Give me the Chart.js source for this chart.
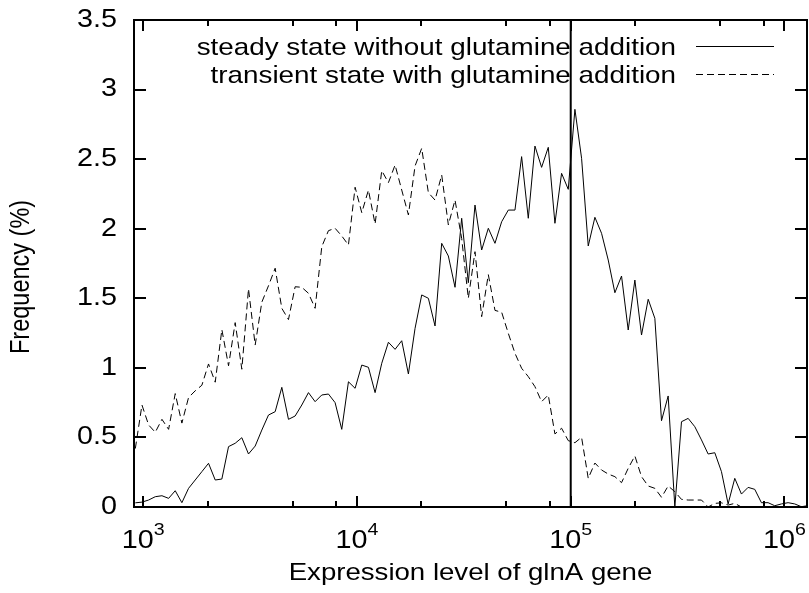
<!DOCTYPE html>
<html>
<head>
<meta charset="utf-8">
<script src="https://cdn.jsdelivr.net/npm/chart.js@4.4.1/dist/chart.umd.min.js"></script>
<style>
  html, body { margin: 0; padding: 0; background: #fff; }
  canvas { display: block; }
</style>
</head>
<body>
<canvas id="glna-chart" width="809" height="593"></canvas>
<script>
// log-spaced bin centres of the glnA expression histogram
const expressionLevel = [
  918, 986, 1059, 1138, 1223, 1314, 1411, 1516, 1629, 1750,
  1880, 2020, 2171, 2332, 2506, 2692, 2892, 3107, 3339, 3587,
  3854, 4141, 4449, 4780, 5135, 5517, 5928, 6369, 6843, 7352,
  7899, 8486, 9120, 9799, 10528, 11311, 12153, 13057, 14028, 15072,
  16193, 17398, 18692, 20082, 21576, 23182, 24907, 26760, 28750, 30889,
  33187, 35656, 38309, 41159, 44221, 47511, 51045, 54843, 58923, 63307,
  68017, 73077, 78514, 84355, 90631, 97374, 104620, 112410, 120770, 129760,
  139410, 149780, 160930, 172900, 185760, 199580, 214430, 230390, 247520, 265940,
  285720, 306980, 329820, 354360, 380720, 409040, 439470, 472170, 507300, 545040,
  585590, 629160, 675970, 726260, 780290, 838340, 900710, 967720, 1040100, 1117500,
  1200600, 1290000
];

// frequency (%) per bin, steady state (no glutamine)
const steadyFreq = [
  0.03, 0.035, 0.05, 0.074, 0.081, 0.062, 0.117, 0.031, 0.134, 0.194,
  0.254, 0.314, 0.194, 0.201, 0.434, 0.458, 0.498, 0.381, 0.438, 0.553,
  0.661, 0.685, 0.86, 0.63, 0.654, 0.733, 0.822, 0.757, 0.805, 0.812,
  0.75, 0.558, 0.9, 0.853, 1.02, 1.004, 0.822, 1.033, 1.184, 1.133,
  1.195, 0.956, 1.284, 1.524, 1.5, 1.301, 1.895, 1.804, 1.579, 2.075,
  1.612, 2.17, 1.847, 2.003, 1.895, 2.05, 2.134, 2.134, 2.518, 2.075,
  2.594, 2.441, 2.585, 2.039, 2.398, 2.283, 2.858, 2.506, 1.876, 2.082,
  1.967, 1.775, 1.54, 1.66, 1.272, 1.631, 1.236, 1.493, 1.356, 0.62,
  0.798, 0, 0.613, 0.637, 0.577, 0.482, 0.381, 0.39, 0.254, 0.022,
  0.206, 0.093, 0.141, 0.127, 0.031, 0.031, 0.009, 0.022, 0.031, 0.022,
  0.002, 0.01
];

// frequency (%) per bin, transient state after glutamine addition
const transientFreq = [
  0.42, 0.733, 0.59, 0.537, 0.63, 0.558, 0.815, 0.603, 0.787, 0.835,
  0.875, 1.028, 0.897, 1.275, 1.015, 1.325, 0.99, 1.568, 1.164, 1.472,
  1.59, 1.716, 1.428, 1.347, 1.583, 1.579, 1.536, 1.428, 1.871, 1.986,
  2.003, 1.948, 1.883, 2.298, 2.115, 2.278, 2.034, 2.417, 2.331, 2.458,
  2.278, 2.099, 2.451, 2.578, 2.259, 2.206, 2.386, 2.027, 2.206, 1.93,
  1.5, 1.835, 1.368, 1.67, 1.413, 1.4, 1.248, 1.105, 0.997, 0.937,
  0.865, 0.757, 0.805, 0.525, 0.566, 0.477, 0.462, 0.501, 0.206, 0.316,
  0.266, 0.237, 0.218, 0.175, 0.278, 0.367, 0.218, 0.151, 0.134, 0.07,
  0.151, 0.11, 0.055, 0.05, 0.05, 0.05, 0, 0.026, 0.03, 0.014,
  0.026, 0, 0, 0, 0, 0, 0, 0, 0, 0,
  0, 0
];

const seriesLabels = [
  'steady state without glutamine addition',
  'transient state with glutamine addition'
];
const markerLevel = 1e5;
const markerRange = [0, 3.5];
const majorTicks = [1e3, 1e4, 1e5, 1e6];
const minorTicks = [2e3, 5e3, 8e3, 2e4, 5e4, 8e4, 2e5, 5e5, 8e5];
const yTicks = [0, 0.5, 1, 1.5, 2, 2.5, 3, 3.5];

const FONT = '"Liberation Sans", Arial, Helvetica, sans-serif';
const STRETCH = 1.15;  // gnuplot's helvetica comes out a bit wide

function toPoints(xs, ys) {
  return xs.map((x, i) => ({ x: x, y: ys[i] }));
}

function putText(ctx, str, x, y, size, align, baseline, vertical) {
  ctx.save();
  ctx.translate(x, y);
  if (vertical) {
    ctx.rotate(-Math.PI / 2);
    ctx.scale(1, STRETCH);
  } else {
    ctx.scale(STRETCH, 1);
  }
  ctx.font = size + 'px ' + FONT;
  ctx.textAlign = align;
  ctx.textBaseline = baseline || 'alphabetic';
  ctx.fillStyle = '#000';
  ctx.fillText(str, 0, 0);
  ctx.restore();
}

function textWidth(ctx, str, size) {
  ctx.save();
  ctx.font = size + 'px ' + FONT;
  const w = ctx.measureText(str).width * STRETCH;
  ctx.restore();
  return w;
}

// border, inward tics, tick labels, axis titles and the key
const gnuplotFrame = {
  id: 'gnuplotFrame',
  afterDatasetsDraw(chart) {
    const ctx = chart.ctx;
    const a = chart.chartArea;
    const xs = chart.scales.x;
    const ys = chart.scales.y;

    ctx.save();
    ctx.strokeStyle = '#000';
    ctx.lineWidth = 2;
    ctx.strokeRect(a.left, a.top, a.right - a.left, a.bottom - a.top);

    ctx.beginPath();
    ys.ticks.forEach(t => {
      const py = Math.round(ys.getPixelForValue(t.value));
      ctx.moveTo(a.left, py); ctx.lineTo(a.left + 12, py);
      ctx.moveTo(a.right, py); ctx.lineTo(a.right - 12, py);
    });
    xs.ticks.forEach(t => {
      const px = Math.round(xs.getPixelForValue(t.value));
      const len = majorTicks.includes(t.value) ? 11 : 6;
      ctx.moveTo(px, a.bottom); ctx.lineTo(px, a.bottom - len);
      ctx.moveTo(px, a.top); ctx.lineTo(px, a.top + len);
    });
    ctx.stroke();
    ctx.restore();

    // y tick labels
    ys.ticks.forEach(t => {
      putText(ctx, String(t.value), a.left - 17, ys.getPixelForValue(t.value), 25, 'right', 'middle');
    });

    // x tick labels as 10^n
    majorTicks.forEach(v => {
      const px = xs.getPixelForValue(v);
      const exp = String(Math.round(Math.log10(v)));
      const w1 = textWidth(ctx, '10', 25);
      const w2 = textWidth(ctx, exp, 17);
      const x0 = px - (w1 + w2) / 2;
      putText(ctx, '10', x0, 548, 25, 'left');
      putText(ctx, exp, x0 + w1, 535, 17, 'left');
    });

    // axis titles
    putText(ctx, 'Expression level of glnA gene', (a.left + a.right) / 2, 580, 24, 'center');
    putText(ctx, 'Frequency (%)', 29, 354, 23.5, 'left', 'alphabetic', true);

    // key, top right: text right-aligned, sample line after it
    const rows = [55, 83];
    chart.data.datasets.slice(0, 2).forEach((ds, i) => {
      putText(ctx, ds.label, 676, rows[i], 24.2, 'right');
      ctx.save();
      ctx.strokeStyle = ds.borderColor;
      ctx.lineWidth = ds.borderWidth;
      ctx.setLineDash(ds.borderDash || []);
      ctx.beginPath();
      ctx.moveTo(696, rows[i] - 8.5);
      ctx.lineTo(774, rows[i] - 8.5);
      ctx.stroke();
      ctx.restore();
    });
  }
};

new Chart(document.getElementById('glna-chart'), {
  type: 'line',
  data: {
    datasets: [
      {
        label: seriesLabels[0],
        data: toPoints(expressionLevel, steadyFreq),
        borderColor: '#000',
        borderWidth: 1,
        pointRadius: 0
      },
      {
        label: seriesLabels[1],
        data: toPoints(expressionLevel, transientFreq),
        borderColor: '#000',
        borderWidth: 1,
        borderDash: [7, 4],
        pointRadius: 0
      },
      {
        label: 'marker',
        data: markerRange.map(y => ({ x: markerLevel, y: y })),
        borderColor: '#000',
        borderWidth: 2,
        pointRadius: 0
      }
    ]
  },
  options: {
    responsive: false,
    animation: false,
    devicePixelRatio: 1,
    layout: { padding: { top: 20, right: 2, left: 0, bottom: 0 } },
    plugins: { legend: { display: false }, tooltip: { enabled: false } },
    scales: {
      x: {
        type: 'logarithmic',
        min: 905,
        max: 1275000,
        grid: { display: false },
        border: { display: false },
        ticks: { display: false },
        afterBuildTicks: s => { s.ticks = majorTicks.concat(minorTicks).map(v => ({ value: v })); },
        afterFit: s => { s.height = 86; }
      },
      y: {
        min: 0,
        max: 3.5,
        grid: { display: false },
        border: { display: false },
        ticks: { display: false },
        afterBuildTicks: s => { s.ticks = yTicks.map(v => ({ value: v })); },
        afterFit: s => { s.width = 134; }
      }
    }
  },
  plugins: [gnuplotFrame]
});
</script>
</body>
</html>
